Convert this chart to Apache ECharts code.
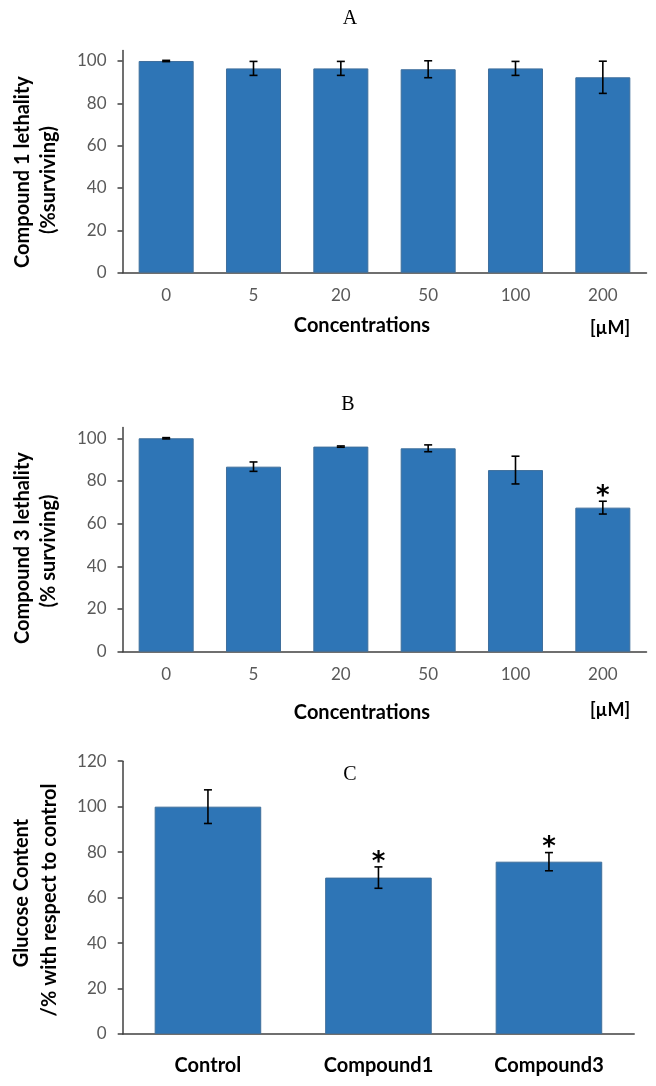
<!DOCTYPE html>
<html>
<head>
<meta charset="utf-8">
<script src="https://cdn.jsdelivr.net/npm/echarts@6/dist/echarts.min.js"></script>
<style>
html,body{margin:0;padding:0;background:#fff;}
#c{width:656px;height:1086px;}
</style>
</head>
<body>
<div id="c"></div>
<script>
// ---- data ----
const concCats = ['0', '5', '20', '50', '100', '200'];
const comp1Mean = [100, 96.5, 96.5, 96.1, 96.5, 92.3];
const comp1Err  = [0.3, 3.3, 3.3, 4.0, 3.3, 7.6];
const comp3Mean = [100, 86.7, 96.1, 95.3, 85.1, 67.5];
const comp3Err  = [0.3, 2.2, 0.3, 1.6, 6.5, 3.0];
const comp3Sig  = [false, false, false, false, false, true];
const glucoseCats = ['Control', 'Compound1', 'Compound3'];
const glucoseMean = [100, 68.8, 75.8];
const glucoseErr  = [7.4, 4.7, 4.0];
const glucoseSig  = [false, true, true];
const yTicksAB = [0, 20, 40, 60, 80, 100];
const yTicksC  = [0, 20, 40, 60, 80, 100, 120];

// ---- styling ----
const BAR = '#2E75B6';
const AXIS = '#404040';
const GRAY = '#595959';
const SANS = 'Lato';

const chart = echarts.init(document.getElementById('c'), null, {renderer: 'canvas'});

function errData(mean, err) { return mean.map((m, i) => [i, m - err[i], m + err[i]]); }
function sigData(mean, err, sig) {
  const out = [];
  sig.forEach((s, i) => { if (s) out.push([i, mean[i] + err[i]]); });
  return out;
}
function errRender(params, api) {
  const x = api.value(0);
  const lo = api.coord([x, api.value(1)]);
  const hi = api.coord([x, api.value(2)]);
  const w = 4;
  const st = {stroke: '#000', lineWidth: 1.6};
  return {type: 'group', children: [
    {type: 'line', shape: {x1: lo[0], y1: lo[1], x2: hi[0], y2: hi[1]}, style: st},
    {type: 'line', shape: {x1: hi[0] - w, y1: hi[1], x2: hi[0] + w, y2: hi[1]}, style: st},
    {type: 'line', shape: {x1: lo[0] - w, y1: lo[1], x2: lo[0] + w, y2: lo[1]}, style: st}
  ]};
}
function starRender(params, api) {
  const p = api.coord([api.value(0), api.value(1)]);
  return {type: 'text', x: p[0], y: p[1] - 4,
    style: {text: '*', font: 'bold 26px "DejaVu Sans"', fill: '#000', align: 'center', verticalAlign: 'middle'}};
}

function xAx(idx, cats, bold) {
  return {
    type: 'category', gridIndex: idx, data: cats,
    axisLine: {show: true, lineStyle: {color: AXIS, width: 1.5}},
    axisTick: {show: false},
    axisLabel: bold
      ? {color: '#000', fontWeight: 'bold', fontSize: 20, fontFamily: SANS, margin: 22}
      : {color: GRAY, fontSize: 17, fontFamily: SANS, margin: 14},
    splitLine: {show: false}
  };
}
function yAx(idx, max, ticks) {
  return {
    type: 'value', gridIndex: idx, min: 0, max: max, interval: 20,
    axisLine: {show: true, lineStyle: {color: AXIS, width: 1.5}},
    axisTick: {show: true, inside: false, length: 5, lineStyle: {color: AXIS, width: 1.5}, customValues: ticks},
    axisLabel: {color: GRAY, fontSize: 17, fontFamily: SANS, margin: 16, customValues: ticks,
      formatter: v => ticks.indexOf(v) >= 0 ? String(v) : ''},
    splitLine: {show: false}
  };
}
function barSeries(idx, data, gap) {
  return {type: 'bar', xAxisIndex: idx, yAxisIndex: idx, data: data, barCategoryGap: gap,
    itemStyle: {color: BAR, borderColor: '#3F6F9C', borderWidth: 1}, silent: true, z: 2};
}
function errSeries(idx, mean, err) {
  return {type: 'custom', xAxisIndex: idx, yAxisIndex: idx, renderItem: errRender,
    data: errData(mean, err), encode: {x: 0, y: [1, 2]}, z: 5, silent: true};
}
function starSeries(idx, mean, err, sig) {
  return {type: 'custom', xAxisIndex: idx, yAxisIndex: idx, renderItem: starRender,
    data: sigData(mean, err, sig), encode: {x: 0, y: 1}, z: 6, silent: true};
}

function label(x, y, text, font, rot) {
  return {type: 'text', x: x, y: y, rotation: rot || 0,
    style: {text: text, font: font, fill: '#000', align: 'center', verticalAlign: 'middle'}};
}
const TITLE_FONT = '20px "Liberation Serif"';
const NAME_FONT = 'bold 20px ' + SANS;
const R = Math.PI / 2;

chart.setOption({
  animation: false,
  backgroundColor: '#fff',
  grid: [
    {left: 122.5, top: 50.4, width: 524, height: 222.3},
    {left: 122.5, top: 427.6, width: 524, height: 224.1},
    {left: 122.7, top: 761.2, width: 511.5, height: 272.8}
  ],
  xAxis: [xAx(0, concCats, false), xAx(1, concCats, false), xAx(2, glucoseCats, true)],
  yAxis: [yAx(0, 105, yTicksAB), yAx(1, 105, yTicksAB), yAx(2, 120, yTicksC)],
  series: [
    barSeries(0, comp1Mean, '37%'), errSeries(0, comp1Mean, comp1Err),
    barSeries(1, comp3Mean, '37%'), errSeries(1, comp3Mean, comp3Err), starSeries(1, comp3Mean, comp3Err, comp3Sig),
    barSeries(2, glucoseMean, '37.5%'), errSeries(2, glucoseMean, glucoseErr), starSeries(2, glucoseMean, glucoseErr, glucoseSig)
  ],
  graphic: [
    label(350, 19, 'A', TITLE_FONT),
    label(348, 405, 'B', TITLE_FONT),
    label(350, 775, 'C', TITLE_FONT),
    label(23, 172, 'Compound 1 lethality', NAME_FONT, R),
    label(49, 180, '(%surviving)', NAME_FONT, R),
    label(23, 548, 'Compound 3 lethality', NAME_FONT, R),
    label(49, 551, '(% surviving)', NAME_FONT, R),
    label(22, 893, 'Glucose Content', NAME_FONT, R),
    label(50, 900, '/% with respect to control', NAME_FONT, R),
    label(362, 326, 'Concentrations', NAME_FONT),
    label(610, 328, '[µM]', 'bold 18px ' + SANS),
    label(362, 713, 'Concentrations', NAME_FONT),
    label(610, 710, '[µM]', 'bold 18px ' + SANS)
  ]
});
</script>
</body>
</html>
